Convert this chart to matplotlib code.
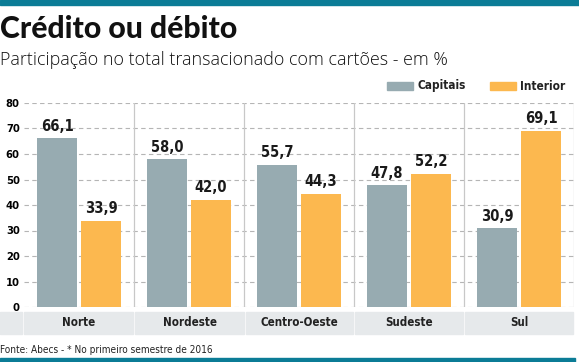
import matplotlib.pyplot as plt
from matplotlib.patches import Rectangle
import numpy as np

regioes = ["Norte", "Nordeste", "Centro-Oeste", "Sudeste", "Sul"]
capitais = [66.1, 58.0, 55.7, 47.8, 30.9]
interior = [33.9, 42.0, 44.3, 52.2, 69.1]
yticks = [0, 10, 20, 30, 40, 50, 60, 70, 80]

TEAL = "#0b7c96"
GRAY = "#97abb1"
ORANGE = "#fcb84f"
BAND = "#e6e9eb"
FONT = "DejaVu Sans"

fig = plt.figure(figsize=(5.79, 3.62), dpi=100)
W, H = 579, 362

def fx(px):
    return px / W

def fy(py):
    return 1 - py / H

def frect(x0, y0, x1, y1, color):
    # rectangle in pixel coords (top-left origin)
    fig.patches.append(Rectangle((fx(x0), fy(y1)), fx(x1 - x0), (y1 - y0) / H,
                                 transform=fig.transFigure, color=color, zorder=0))

# top and bottom teal rules
frect(0, 0, 579, 5, TEAL)
frect(0, 358, 575, 362, TEAL)

fig.text(0, fy(38), "Crédito ou débito", fontsize=21.7, fontweight=900, family="Lato",
         va="baseline", ha="left", color="#111111")
fig.text(0, fy(65), "Participação no total transacionado com cartões - em %", fontsize=12.9,
         family="Open Sans", fontweight="light", va="baseline", ha="left", color="#111111")

# legend
frect(387, 82, 413, 90, GRAY)
fig.text(fx(418), fy(86), "Capitais", fontsize=8.5, fontweight="bold", family=FONT,
         fontstretch="condensed", va="center", color="#222222")
frect(490, 82, 516, 90, ORANGE)
fig.text(fx(520), fy(86), "Interior", fontsize=8.5, fontweight="bold", family=FONT,
         fontstretch="condensed", va="center", color="#222222")

# category band
band_top, band_bot = 312, 334
frect(0, band_top, 22, band_bot, BAND)
edges = [24, 134, 245, 354, 464, 574]
for i in range(len(regioes)):
    frect(edges[i] + (1 if i > 0 else 0), band_top, edges[i + 1] - 1, band_bot, BAND)
    fig.text(fx((edges[i] + edges[i + 1]) / 2), fy((band_top + band_bot) / 2), regioes[i],
             ha="center", va="center", fontsize=8.3, fontweight="bold", family=FONT,
             fontstretch="condensed", color="#222222")

ax = fig.add_axes([fx(24), fy(307), fx(574) - fx(24), (307 - 103) / H])
ax.patch.set_alpha(0)
x = np.arange(len(regioes))
w = 0.355
off = 0.2
ax.bar(x - off, capitais, w, color=GRAY, zorder=3)
ax.bar(x + off, interior, w, color=ORANGE, zorder=3)

for i in range(len(regioes)):
    ax.text(x[i] - off, capitais[i] + 1.8, f"{capitais[i]:.1f}".replace(".", ","), ha="center",
            va="bottom", fontsize=10.5, fontweight="bold", family=FONT, fontstretch="condensed",
            color="#1a1a1a", zorder=4)
    ax.text(x[i] + off, interior[i] + 1.8, f"{interior[i]:.1f}".replace(".", ","), ha="center",
            va="bottom", fontsize=10.5, fontweight="bold", family=FONT, fontstretch="condensed",
            color="#1a1a1a", zorder=4)

ax.set_xlim(-0.5, len(regioes) - 0.5)
ax.set_ylim(0, 80)
for yv in yticks:
    ax.axhline(yv, color="#b5b5b5", lw=0.8, ls=(0, (4, 3)), zorder=1)
for b in np.arange(0.5, len(regioes), 1.0):
    ax.axvline(b, color="#c8c8c8", lw=0.9, zorder=2)

for s in ax.spines.values():
    s.set_visible(False)
ax.set_xticks([])
ax.set_yticks(yticks)
ax.set_yticklabels([str(v) for v in yticks], fontsize=8, fontweight="bold", family=FONT,
                   fontstretch="condensed")
ax.tick_params(axis="y", length=0, pad=3)

fig.text(0, fy(350), "Fonte: Abecs - * No primeiro semestre de 2016", fontsize=7.2, family=FONT,
         fontstretch="condensed", va="center", ha="left", color="#222222")

fig.savefig("out.png", dpi=100)
